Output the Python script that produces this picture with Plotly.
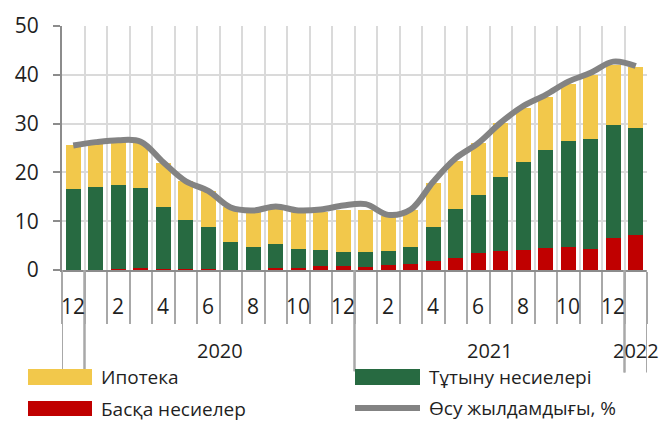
import plotly.graph_objects as go

# Months: Dec 2019 .. Jan 2022
months = ["12", "1", "2", "3", "4", "5", "6", "7", "8", "9", "10", "11",
          "12", "1", "2", "3", "4", "5", "6", "7", "8", "9", "10", "11",
          "12", "1"]
years = ["2019"] + ["2020"] * 12 + ["2021"] * 12 + ["2022"]

# Contributions to growth, percentage points
other_loans = [0.0, 0.0, 0.2, 0.4, 0.2, 0.2, 0.3, 0.1, 0.1, 0.5, 0.5, 0.9, 0.9,
               0.7, 1.0, 1.2, 1.9, 2.5, 3.4, 3.8, 4.1, 4.6, 4.8, 4.4, 6.5, 7.1]
consumer_loans = [16.7, 17.1, 17.2, 16.5, 12.8, 10.0, 8.6, 5.6, 4.7, 4.8, 3.9, 3.1, 2.7,
                  2.9, 2.8, 3.6, 7.0, 10.1, 12.0, 15.2, 18.0, 19.9, 21.7, 22.4, 23.3, 22.0]
mortgage = [8.9, 8.9, 8.9, 9.2, 8.9, 8.0, 7.2, 7.3, 7.4, 7.5, 7.5, 7.9, 8.6,
            8.6, 7.3, 7.5, 9.0, 9.8, 10.6, 11.1, 11.2, 11.0, 11.6, 13.2, 12.2, 12.6]
# Annual growth rate, %
growth = [25.5, 26.2, 26.6, 26.3, 22.1, 18.2, 16.2, 12.8, 12.2, 13.0, 12.2, 12.4, 13.2,
          13.5, 11.3, 12.4, 18.1, 22.9, 26.0, 30.2, 33.6, 35.9, 38.6, 40.4, 42.7, 41.8]

names = ["Ипотека", "Тұтыну несиелері", "Басқа несиелер", "Өсу жылдамдығы, %"]

YELLOW = "#F2C84B"
GREEN = "#276A41"
RED = "#C00000"
GREY = "#838383"
TEXT = "#1f1f1f"
FONT = "Open Sans"

x = list(range(len(months)))

fig = go.Figure()
fig.add_bar(x=x, y=other_loans, name=names[2], marker_color=RED, marker_line_width=0)
fig.add_bar(x=x, y=consumer_loans, name=names[1], marker_color=GREEN, marker_line_width=0)
fig.add_bar(x=x, y=mortgage, name=names[0], marker_color=YELLOW, marker_line_width=0)
fig.add_scatter(x=x, y=growth, name=names[3], mode="lines",
                line=dict(color=GREY, width=6, shape="spline", smoothing=1.0))

boundaries = [i - 0.5 for i in range(len(months) + 1)]

fig.update_layout(
    width=662, height=423,
    margin=dict(l=62, r=15, t=26, b=153),
    paper_bgcolor="white", plot_bgcolor="white",
    barmode="stack", bargap=0.33,
    showlegend=False,
    font=dict(family=FONT, size=20, color=TEXT),
    xaxis=dict(range=[-0.5, len(months) - 0.5], tickvals=boundaries,
               showticklabels=False, showgrid=True, gridcolor="#dadada", gridwidth=1.5,
               ticks="outside", ticklen=52, tickwidth=2, tickcolor="#a8a8a8",
               showline=True, linecolor="#8c8c8c", linewidth=2, zeroline=False),
    yaxis=dict(range=[0, 50], dtick=10, showgrid=True, gridcolor="#dadada", gridwidth=1.5,
               ticks="outside", ticklen=7, tickwidth=2, tickcolor="#8c8c8c",
               showline=True, linecolor="#8c8c8c", linewidth=2, zeroline=False,
               ticklabelstandoff=10,
               tickfont=dict(family=FONT, size=21, color=TEXT)),
)

ann = []
# month labels every second month
for i, m in enumerate(months):
    if i % 2 == 0:
        ann.append(dict(x=i, y=0, xref="x", yref="paper", text=m, showarrow=False,
                        yanchor="middle", yshift=-36, font=dict(size=21)))

# year labels centred on their groups, long separator lines at group edges
groups = []
for i, yv in enumerate(years):
    if groups and groups[-1][0] == yv:
        groups[-1][2] = i
    else:
        groups.append([yv, i, i])
shapes = []
for yv, a, b in groups:
    if b - a >= 1 or yv == "2022":
        ann.append(dict(x=(a + b) / 2, y=0, xref="x", yref="paper", text=yv,
                        showarrow=False, yanchor="middle", yshift=-80,
                        font=dict(size=20)))
    for edge in (a - 0.5, b + 0.5):
        depth = -0.42 if edge > len(months) - 2 else -0.415
        shapes.append(dict(type="line", xref="x", yref="paper", x0=edge, x1=edge,
                           y0=0, y1=depth, line=dict(color="#a8a8a8", width=2)))

# legend, drawn by hand in two columns
def px(v):
    return (v - 62) / 585.0

def py(v):
    return (270 - v) / 244.0

legend_rows = [
    (names[0], YELLOW, "box", 28, 92, 369, 385, 99),
    (names[2], RED, "box", 28, 92, 401, 416, 99),
    (names[1], GREEN, "box", 355, 420, 369, 385, 427),
    (names[3], GREY, "line", 355, 420, 406, 410, 427),
]
for label, col, kind, x0, x1, y0, y1, tx in legend_rows:
    if kind == "box":
        shapes.append(dict(type="rect", xref="paper", yref="paper",
                           x0=px(x0), x1=px(x1), y0=py(y1), y1=py(y0),
                           fillcolor=col, line=dict(width=0)))
    else:
        shapes.append(dict(type="line", xref="paper", yref="paper",
                           x0=px(x0), x1=px(x1), y0=py((y0 + y1) / 2), y1=py((y0 + y1) / 2),
                           line=dict(color=col, width=6)))
    ann.append(dict(x=px(tx), y=py((y0 + y1) / 2), xref="paper", yref="paper",
                    text=label, showarrow=False, xanchor="left", yanchor="middle",
                    font=dict(size=19)))

fig.update_layout(annotations=ann, shapes=shapes)
fig.write_html("out.html")
